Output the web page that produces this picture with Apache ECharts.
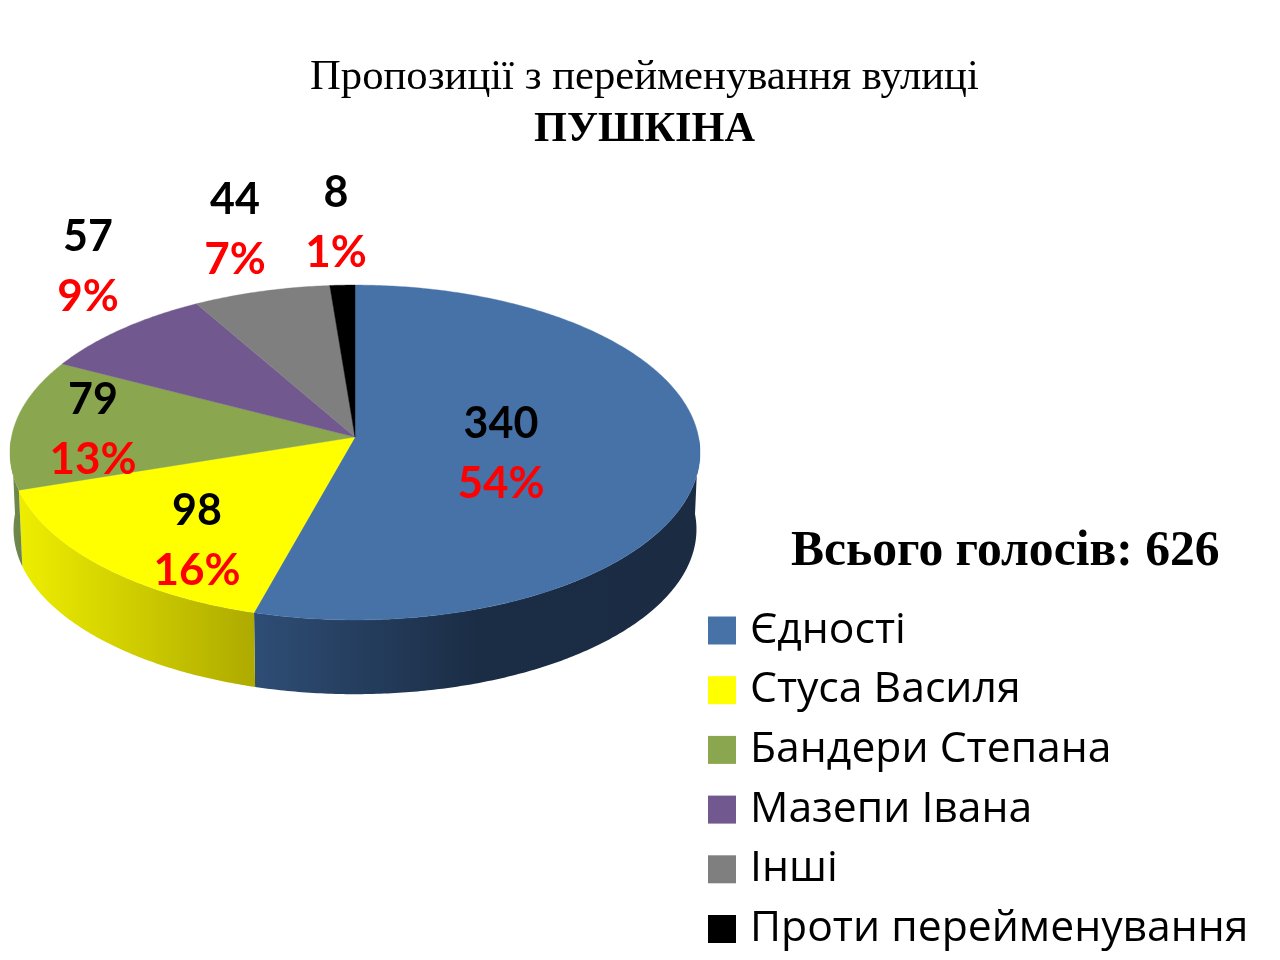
<!DOCTYPE html>
<html>
<head>
<meta charset="utf-8">
<style>html,body{margin:0;padding:0;background:#fff}#chart{width:1280px;height:960px}</style>
<script src="https://cdn.jsdelivr.net/npm/echarts@6/dist/echarts.min.js"></script>
</head>
<body>
<div id="chart"></div>
<script>
// Data
const categories = ['Єдності', 'Стуса Василя', 'Бандери Степана', 'Мазепи Івана', 'Інші', 'Проти перейменування'];
const votes = [340, 98, 79, 57, 44, 8];
const percentLabels = ['54%', '16%', '13%', '9%', '7%', '1%'];
const titleLine1 = 'Пропозиції з перейменування вулиці';
const titleLine2 = 'ПУШКІНА';
const totalLabel = 'Всього голосів: 626';

// Styles and layout
const colors = ['#4672a8', '#ffff00', '#8aa64f', '#71588f', '#7f7f7f', '#000000'];
const wallColors = [
  [[0, '#2e4d75'], [0.5, '#1b2d45'], [1, '#1a2b42']],
  [[0, '#eeee00'], [1, '#aeaa00']],
  [[0, '#6f8a4f'], [1, '#5f7236']],
  [[0, '#4c3b60'], [1, '#4c3b60']],
  [[0, '#555555'], [1, '#555555']],
  [[0, '#000000'], [1, '#000000']]
];
const wallSpan = [[255, 700], [18, 255], [10, 60], [60, 200], [200, 330], [330, 355]];
const labelCenters = [[501, 424], [197, 511], [93, 400], [88, 237], [235, 200], [336, 193]];
const percentGap = 60;
const top3d = { cx: 355, cy: 437, a: 343.5, b: 166, k: 0.0926 };
const bottom3d = { cx: 355, cy: 514, a: 340, b: 163.5, k: 0.0926 };
const total = votes.reduce((s, v) => s + v, 0);

function project(p, theta) {
  const u = Math.sin(theta), v = -Math.cos(theta), w = 1 - p.k * v;
  return [p.cx + p.a * u / w, p.cy + p.b * v / w];
}
function arc(p, t0, t1) {
  const n = Math.max(2, Math.ceil((t1 - t0) / 0.01));
  const pts = [];
  for (let i = 0; i <= n; i++) pts.push(project(p, t0 + (t1 - t0) * i / n));
  return pts;
}

function renderSlice(index) {
  return function (params, api) {
    const before = votes.slice(0, index).reduce((s, v) => s + v, 0);
    const t0 = before / total * 2 * Math.PI;
    const t1 = (before + api.value(0)) / total * 2 * Math.PI;
    const topArc = arc(top3d, t0, t1);
    const span = wallSpan[index];
    const wallFill = {
      type: 'linear', global: true, x: span[0], y: 0, x2: span[1], y2: 0,
      colorStops: wallColors[index].map(s => ({ offset: s[0], color: s[1] }))
    };
    const c = labelCenters[index];
    const children = [];
    // only the front half of the rim is visible
    const f0 = Math.max(t0, Math.PI / 2), f1 = Math.min(t1, 3 * Math.PI / 2);
    if (f1 > f0) {
      children.push({
        type: 'polygon', z2: 1,
        shape: { points: arc(top3d, f0, f1).concat(arc(bottom3d, f0, f1).reverse()) },
        style: { fill: wallFill }
      });
    }
    children.push(
      {
        type: 'polygon', z2: 2,
        shape: { points: [[top3d.cx, top3d.cy]].concat(topArc) },
        style: { fill: colors[index], stroke: colors[index], lineWidth: 0.4 }
      },
      {
        type: 'text', z2: 3,
        style: {
          text: String(api.value(0)), x: c[0], y: c[1], align: 'center', verticalAlign: 'middle',
          fill: '#000', font: 'bold 43px Lato'
        }
      },
      {
        type: 'text', z2: 3,
        style: {
          text: percentLabels[index], x: c[0], y: c[1] + percentGap, align: 'center', verticalAlign: 'middle',
          fill: '#ff0000', font: 'bold 44px Lato'
        }
      }
    );
    return { type: 'group', children: children };
  };
}

const chart = echarts.init(document.getElementById('chart'), null, { renderer: 'canvas' });
chart.setOption({
  animation: false,
  backgroundColor: '#fff',
  title: [
    { text: titleLine1, left: 310, top: 56, padding: 0, textStyle: { fontFamily: 'Liberation Serif', fontWeight: 'normal', fontSize: 42.7, color: '#000' } },
    { text: titleLine2, left: 534, top: 109, padding: 0, textStyle: { fontFamily: 'Liberation Serif', fontWeight: 'bold', fontSize: 42.3, color: '#000' } },
    { text: totalLabel, left: 791, top: 527, padding: 0, textStyle: { fontFamily: 'Liberation Serif', fontWeight: 'bold', fontSize: 49.6, color: '#000' } }
  ],
  legend: {
    orient: 'vertical', left: 708, top: 609, padding: 0, width: 570, height: 345,
    itemWidth: 28, itemHeight: 28, itemGap: 16.7, icon: 'rect', selectedMode: false,
    data: categories,
    textStyle: { fontFamily: 'Open Sans', fontSize: 42.7, color: '#000', lineHeight: 28, padding: [0, 0, 0, 9] }
  },
  series: categories.map((name, i) => ({
    type: 'custom', name: name, coordinateSystem: 'none', clip: false, silent: true,
    itemStyle: { color: colors[i] },
    renderItem: renderSlice(i),
    data: [[votes[i]]]
  }))
});
</script>
</body>
</html>
